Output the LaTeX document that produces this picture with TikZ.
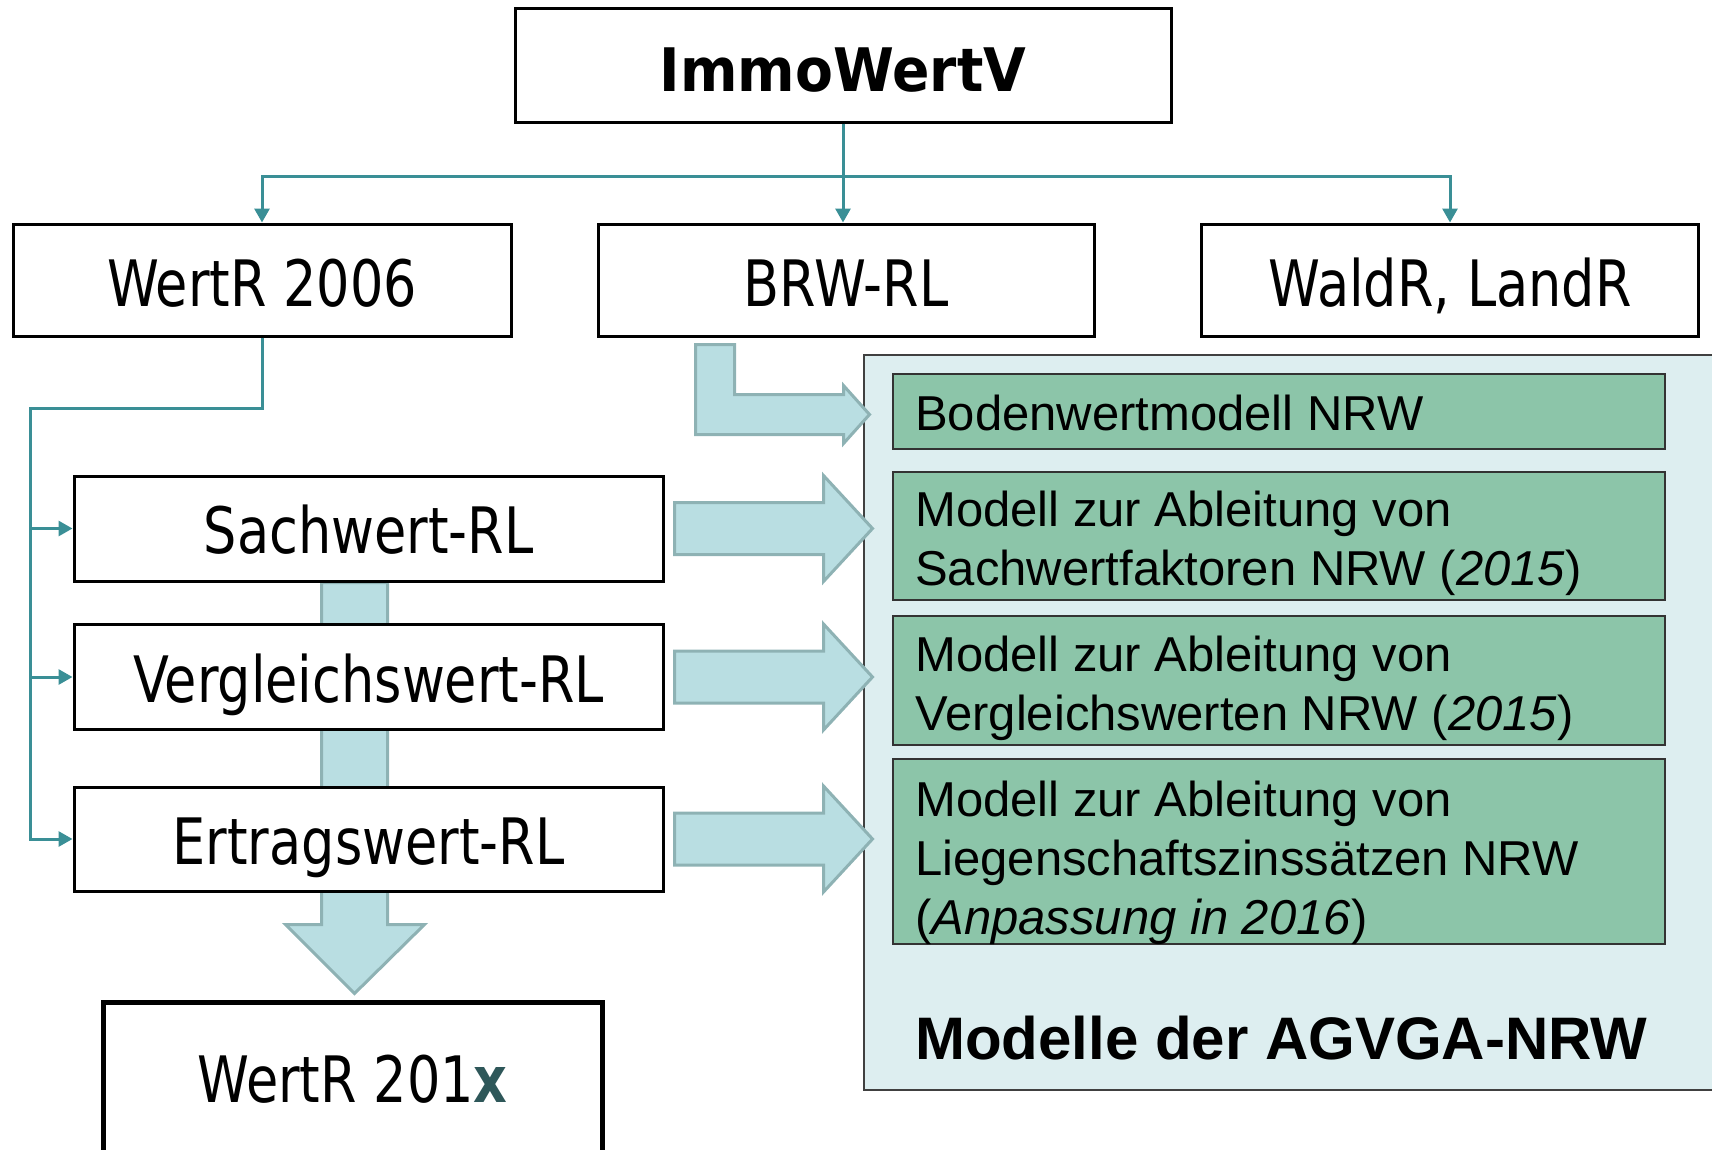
\documentclass[tikz,border=0pt]{standalone}
\usepackage{fontspec}
\setmainfont{Liberation Sans}
\newfontfamily\boxfont[FakeStretch=0.82]{DejaVu Sans}
\newfontfamily\headfont[FakeStretch=0.92]{DejaVu Sans}
\usepackage{tikz}
\usetikzlibrary{calc}
\usetikzlibrary{arrows.meta}
\usetikzlibrary{backgrounds}

\definecolor{conncol}{RGB}{58,143,150}
\definecolor{arrowfill}{RGB}{185,222,226}
\definecolor{arrowline}{RGB}{142,178,180}
\definecolor{panelfill}{RGB}{221,238,240}
\definecolor{modelfill}{RGB}{140,197,169}
\definecolor{xcol}{RGB}{46,87,89}

\tikzset{
    rlbox/.style={draw, line width=3pt, fill=white, inner sep=0pt,
        minimum width=589pt, minimum height=105pt,
        text height=50pt, text depth=0pt,
        font=\boxfont\fontsize{64}{70}\selectfont},
    modelbox/.style={draw=black!80, line width=1.5pt, fill=modelfill,
        minimum width=772pt, inner sep=0pt, anchor=north west},
    modeltext/.style={anchor=north west, inner sep=0pt, align=left,
        font=\fontsize{49}{59}\selectfont},
    conn/.style={draw=conncol, line width=3pt,
        -{Triangle[length=14pt,width=15pt]}},
    blockarrow/.style={fill=arrowfill, draw=arrowline, line width=3pt},
    panel/.style={fill=panelfill, draw=black!75, line width=1.5pt}
}

\begin{document}
\begin{tikzpicture}[x=1pt,y=-1pt]
    \useasboundingbox (0,0) rectangle (1712,1149);

    % Verordnung und Richtlinien
    \node[rlbox, minimum width=656pt, minimum height=114pt, text height=52pt,
        font=\headfont\bfseries\fontsize{60}{70}\selectfont] (immo) at (843,65) {ImmoWertV};
    \node[rlbox, minimum width=498pt, minimum height=112pt, text height=52pt] (wertr) at (262,280) {WertR 2006};
    \node[rlbox, minimum width=496pt, minimum height=112pt, text height=52pt] (brw) at (846,280) {BRW-RL};
    \node[rlbox, minimum width=497pt, minimum height=112pt, text height=52pt] (wald) at (1450,280) {WaldR, LandR};

    \node[rlbox] (sach) at (368.5,528.5) {Sachwert-RL};
    \node[rlbox] (vergl) at (368.5,677) {Vergleichswert-RL};
    \node[rlbox, minimum height=104pt] (ertrag) at (368.5,839) {Ertragswert-RL};

    \node[rlbox, line width=5pt, minimum width=499pt, minimum height=150pt] (neu) at (352.5,1077)
        {WertR 201{\bfseries\color{xcol}x}};

    % Modelle der AGVGA-NRW
    \node[modelbox, minimum height=75pt] (boden) at (892,373) {};
    \node[modelbox, minimum height=128pt] (msach) at (892,471) {};
    \node[modelbox, minimum height=129pt] (mvergl) at (892,615) {};
    \node[modelbox, minimum height=185pt] (mliz) at (892,758) {};

    \node[modeltext] (tboden) at ($(boden.north west)+(23,22)$) {Bodenwertmodell NRW};
    \node[modeltext] (tsach) at ($(msach.north west)+(23,20)$)
        {Modell zur Ableitung von\\Sachwertfaktoren NRW (\textit{2015})};
    \node[modeltext] (tvergl) at ($(mvergl.north west)+(23,21)$)
        {Modell zur Ableitung von\\Vergleichswerten NRW (\textit{2015})};
    \node[modeltext] (tliz) at ($(mliz.north west)+(23,23)$)
        {Modell zur Ableitung von\\Liegenschaftszinss\"atzen NRW\\(\textit{Anpassung in 2016})};

    \node[anchor=base west, inner sep=0pt, font=\bfseries\fontsize{60}{70}\selectfont]
        (agvga) at (915,1059) {Modelle der AGVGA-NRW};

    % Verbindungen
    \draw[conn] (immo.south) -- (immo.south |- brw.north);
    \coordinate (fork) at ($(immo.south)+(0,53)$);
    \draw[conn] (fork) -| (wertr.north);
    \draw[conn] (fork) -| (wald.north);

    \coordinate (spine) at (30,408);
    \draw[conn] (wertr.south) |- (spine) |- (ertrag.west);
    \draw[conn] (spine |- sach.west) -- (sach.west);
    \draw[conn] (spine |- vergl.west) -- (vergl.west);

    \begin{scope}[on background layer]
        \draw[panel] (864,355) rectangle (1730,1090);

        \draw[blockarrow] ($(brw.south west)+(99,7)$) -- ++(39,0) -- ++(0,50) -- ++(109,0)
            -- ++(0,-9) -- ++(26,29) -- ++(-26,29) -- ++(0,-9) -- ++(-148,0) -- cycle;

        \foreach \b in {sach,vergl,ertrag}
            \draw[blockarrow] ($(\b.east)+(10,-26)$) -- ++(149,0) -- ++(0,-27) -- ++(49,53)
                -- ++(-49,53) -- ++(0,-27) -- ++(-149,0) -- cycle;

        \draw[blockarrow] ($(sach.south)+(-47,0)$) -- ($(ertrag.south)+(-47,32)$) -- ++(-36,0)
            -- ++(69,69) -- ++(70,-69) -- ++(-37,0) -- ($(sach.south)+(19,0)$) -- cycle;
    \end{scope}
\end{tikzpicture}
\end{document}
